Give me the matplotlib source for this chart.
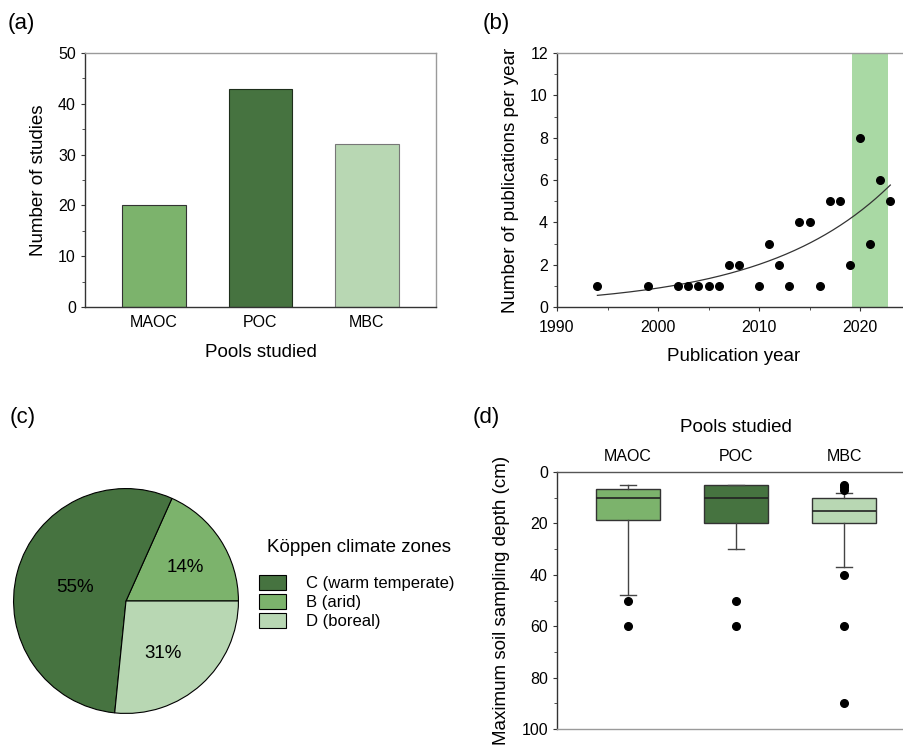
import numpy as np
import matplotlib
matplotlib.use('Agg')
import matplotlib.pyplot as plt
from matplotlib.patches import Patch
from matplotlib.ticker import MultipleLocator

plt.rcParams['font.family'] = ['Liberation Sans', 'DejaVu Sans']

# colours
c_mid = '#7cb36c'
c_dark = '#467340'
c_light = '#b8d7b3'
c_band = '#a9d9a4'

# (a) number of studies per pool
pools = ['MAOC', 'POC', 'MBC']
n_studies = [20, 43, 32]

# (b) publications per year
pub_years = [1994, 1999, 2002, 2003, 2004, 2005, 2006, 2007, 2008, 2010, 2011, 2012,
             2013, 2014, 2015, 2016, 2017, 2018, 2019, 2020, 2021, 2022, 2023]
pub_counts = [1, 1, 1, 1, 1, 1, 1, 2, 2, 1, 3, 2,
              1, 4, 4, 1, 5, 5, 2, 8, 3, 6, 5]
band_years = (2019.25, 2022.75)
# exponential trend y = a*exp(b*(year-1994))
trend_a = 0.55
trend_b = 0.081

# (c) Köppen climate zones (drawn shares, printed labels)
zones = ['B (arid)', 'C (warm temperate)', 'D (boreal)']
zone_share = [18.3, 55.1, 26.6]
zone_pct = ['14%', '55%', '31%']
zone_colors = [c_mid, c_dark, c_light]
legend_order = [1, 0, 2]

# (d) maximum soil sampling depth
depth_whislo = [5, 5, 8]
depth_q1 = [6.5, 5, 10]
depth_med = [10, 10, 15]
depth_q3 = [18.5, 20, 20]
depth_whishi = [48, 30, 37]
depth_fliers = [[50, 60], [50, 60], [5, 6, 7, 40, 60, 90]]

W, H = 904, 745
fig = plt.figure(figsize=(W / 100, H / 100), dpi=100)


def box(l, t, r, b):
    return [l / W, 1 - b / H, (r - l) / W, (b - t) / H]


def style_spines(ax, right=True):
    for s in ['left', 'bottom']:
        ax.spines[s].set_color('#333333')
        ax.spines[s].set_linewidth(1.0)
    for s in ['top', 'right']:
        ax.spines[s].set_color('#9a9a9a')
        ax.spines[s].set_linewidth(1.0)
    if not right:
        ax.spines['right'].set_visible(False)


# ---- (a)
ax = fig.add_axes(box(85, 53, 436, 307))
x = np.arange(len(pools))
ax.bar(x, n_studies, width=0.6, color=[c_mid, c_dark, c_light],
       edgecolor=['#333333', '#1e2e1b', '#777777'], linewidth=0.8)
ax.set_xlim(-0.65, 2.65)
ax.set_ylim(0, 50)
ax.set_xticks(x)
ax.set_xticklabels(pools, fontsize=11.5)
ax.tick_params(axis='x', length=0, pad=6)
ax.yaxis.set_major_locator(MultipleLocator(10))
ax.yaxis.set_minor_locator(MultipleLocator(5))
ax.tick_params(axis='y', which='major', length=3, labelsize=11.5, color='#333333')
ax.tick_params(axis='y', which='minor', length=2, color='#333333')
ax.set_ylabel('Number of studies', fontsize=13.5, labelpad=8)
ax.set_xlabel('Pools studied', fontsize=13.5, labelpad=10)
style_spines(ax)

# ---- (b)
ax = fig.add_axes(box(557, 53, 910.5, 307))
ax.axvspan(band_years[0], band_years[1], color=c_band, lw=0, zorder=0)
yrs = np.linspace(min(pub_years), max(pub_years), 200)
ax.plot(yrs, trend_a * np.exp(trend_b * (yrs - min(pub_years))), color='#333333', lw=0.9, zorder=2)
ax.scatter(pub_years, pub_counts, s=30, color='black', zorder=3)
ax.set_xlim(1990, 2025)
ax.set_ylim(0, 12)
ax.xaxis.set_major_locator(MultipleLocator(10))
ax.xaxis.set_minor_locator(MultipleLocator(5))
ax.yaxis.set_major_locator(MultipleLocator(2))
ax.yaxis.set_minor_locator(MultipleLocator(1))
ax.tick_params(which='major', length=3, labelsize=11.5, color='#333333')
ax.tick_params(which='minor', length=2, color='#333333')
ax.tick_params(axis='x', pad=6)
ax.set_ylabel('Number of publications per year', fontsize=13.5, labelpad=8)
ax.set_xlabel('Publication year', fontsize=13.5, labelpad=10)
style_spines(ax, right=False)

# ---- (c)
ax = fig.add_axes(box(13, 488, 239, 714))
wedges, _ = ax.pie(zone_share, colors=zone_colors, startangle=0, counterclock=True,
                   wedgeprops=dict(edgecolor='black', linewidth=0.8))
label_pos = [(0.53, 0.30), (-0.45, 0.12), (0.33, -0.47)]
for (lx, ly), txt in zip(label_pos, zone_pct):
    ax.text(lx, ly, txt, ha='center', va='center', fontsize=13.5)
ax.set_xlim(-1.005, 1.005)
ax.set_ylim(-1.005, 1.005)
handles = [Patch(facecolor=zone_colors[i], edgecolor='black', linewidth=0.8) for i in legend_order]
labels = [zones[i] for i in legend_order]
fig.text(267 / W, 1 - 547 / H, 'Köppen climate zones', fontsize=13.5, ha='left', va='center')
fig.legend(handles, labels, loc='upper left', bbox_to_anchor=(259 / W, 1 - 575 / H),
           bbox_transform=fig.transFigure, frameon=False, fontsize=12,
           handlelength=1.6, handleheight=1.0, handletextpad=1.2,
           labelspacing=0.17, borderpad=0, borderaxespad=0)

# ---- (d)
ax = fig.add_axes(box(557, 472, 915, 729))
stats = []
for i in range(len(pools)):
    stats.append(dict(med=depth_med[i], q1=depth_q1[i], q3=depth_q3[i],
                      whislo=depth_whislo[i], whishi=depth_whishi[i],
                      fliers=depth_fliers[i]))
bp = ax.bxp(stats, positions=x, widths=0.6, capwidths=0.14, patch_artist=True,
            boxprops=dict(edgecolor='#333333', linewidth=1.0),
            medianprops=dict(color='#222222', linewidth=1.2),
            whiskerprops=dict(color='#444444', linewidth=1.0),
            capprops=dict(color='#444444', linewidth=1.0),
            flierprops=dict(marker='o', markerfacecolor='black', markeredgecolor='black',
                            markersize=5.5))
for patch, col in zip(bp['boxes'], [c_mid, c_dark, c_light]):
    patch.set_facecolor(col)
ax.set_xlim(-0.657, 2.657)
ax.set_ylim(100, 0)
ax.xaxis.tick_top()
ax.xaxis.set_label_position('top')
ax.set_xticks(x)
ax.set_xticklabels(pools, fontsize=11.5)
ax.tick_params(axis='x', length=0, pad=6)
ax.yaxis.set_major_locator(MultipleLocator(20))
ax.yaxis.set_minor_locator(MultipleLocator(10))
ax.tick_params(axis='y', which='major', length=3, labelsize=11.5, color='#333333')
ax.tick_params(axis='y', which='minor', length=2, color='#333333')
ax.set_xlabel('Pools studied', fontsize=13.5, labelpad=12)
ax.set_ylabel('Maximum soil sampling depth (cm)', fontsize=13.5, labelpad=8)
style_spines(ax, right=False)
ax.spines['bottom'].set_color('#9a9a9a')
ax.spines['top'].set_color('#555555')

# panel labels
for lab, px, py in [('(a)', 8, 23), ('(b)', 483, 23), ('(c)', 10, 417), ('(d)', 473, 417)]:
    fig.text(px / W, 1 - py / H, lab, fontsize=16, ha='left', va='center')

fig.savefig('out.png', dpi=100)
